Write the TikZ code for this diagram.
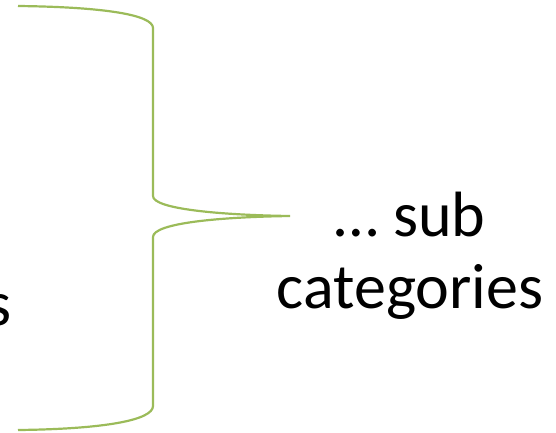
\documentclass[tikz,border=0pt]{standalone}
\usepackage{fontspec}
\setmainfont{Carlito}
\usetikzlibrary{positioning}
\definecolor{bracegreen}{HTML}{9BBB59}

\begin{document}
\begin{tikzpicture}[x=1pt,y=-1pt,
  every node/.style={font=\fontsize{64}{72}\selectfont, inner sep=0pt},
  bracestyle/.style={draw=bracegreen, line width=2.2pt}]
\useasboundingbox (0,0) rectangle (556,432);

% brace
\coordinate (top) at (18,6);
\coordinate (bot) at (18,430);
\coordinate (tip) at (290,216);
\draw[bracestyle] (top) .. controls (105,7) and (153,15) .. (153,28)
  -- (153,196) .. controls (153,209) and (220,215) .. (tip)
  .. controls (220,217) and (153,223) .. (153,237)
  -- (153,406) .. controls (153,420) and (105,429) .. (bot);

% texts
\node[anchor=base, align=center] (sub) at (410,308) {… sub\\categories};
\node[anchor=base east] (left) at (12,325) {s};
\end{tikzpicture}
\end{document}
